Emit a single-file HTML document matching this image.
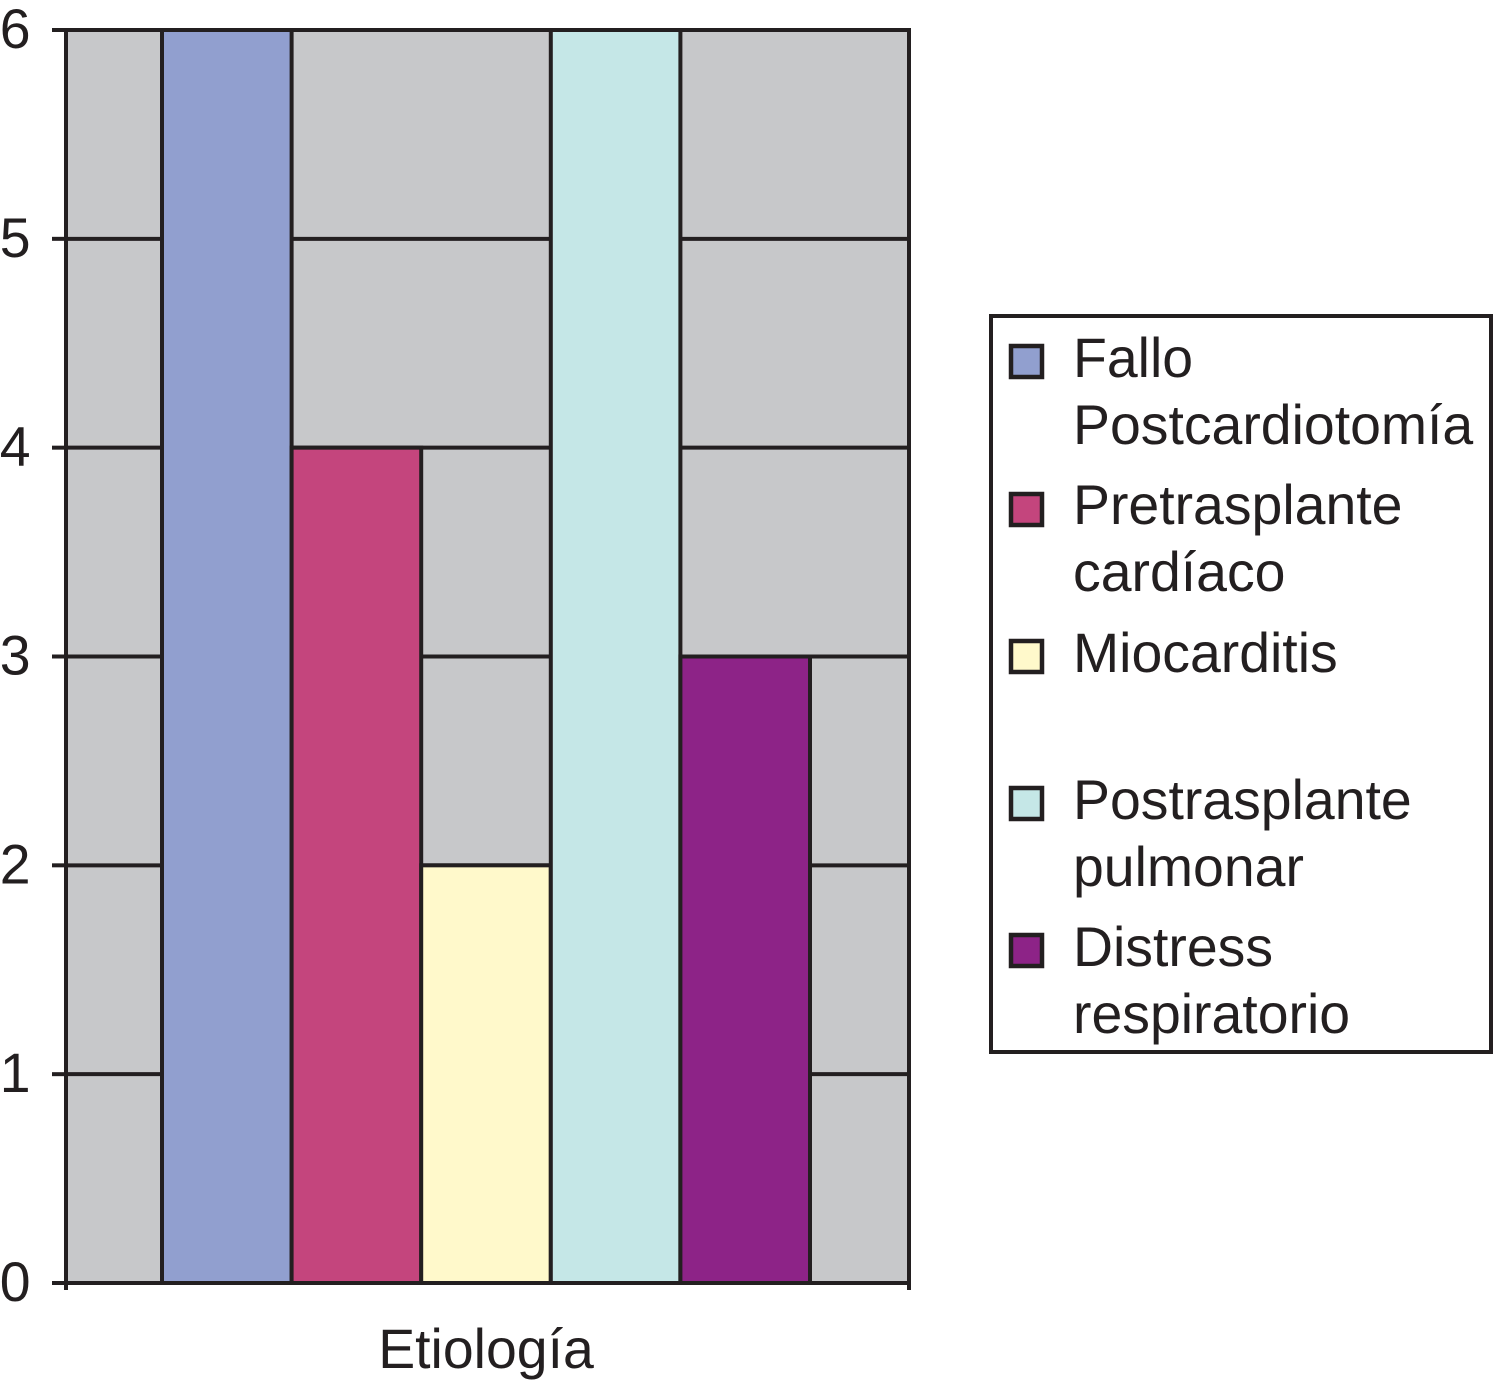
<!DOCTYPE html>
<html lang="es">
<head>
<meta charset="utf-8">
<title>Etiología</title>
<style>
html,body{margin:0;padding:0;background:#fff;}
svg{display:block;}
text{font-family:"Liberation Sans",Arial,sans-serif;fill:#231f20;font-size:55.4px;}
</style>
</head>
<body>
<svg id="chart" xmlns="http://www.w3.org/2000/svg" width="1493" height="1380" viewBox="0 0 1493 1380">
  <rect x="66" y="30" width="843" height="1253" fill="#c7c8ca"/>
  <g id="grid"></g>
  <g id="bars"></g>
  <g id="axes"></g>
  <text x="486" y="1368" text-anchor="middle">Etiología</text>
  <g>
    <rect x="991" y="316" width="500" height="736" fill="#fff" stroke="#231f20" stroke-width="4"/>
    <g>
      <rect x="1011" y="346" width="31" height="31" fill="#919fcf" stroke="#231f20" stroke-width="4.5"/>
      <text x="1073" y="377">Fallo</text>
      <text x="1073" y="444">Postcardiotomía</text>
    </g>
    <g>
      <rect x="1011" y="494" width="31" height="31" fill="#c4457d" stroke="#231f20" stroke-width="4.5"/>
      <text x="1073" y="524">Pretrasplante</text>
      <text x="1073" y="591">cardíaco</text>
    </g>
    <g>
      <rect x="1011" y="641" width="31" height="31" fill="#fff9cb" stroke="#231f20" stroke-width="4.5"/>
      <text x="1073" y="672">Miocarditis</text>
    </g>
    <g>
      <rect x="1011" y="788" width="31" height="31" fill="#c5e7e7" stroke="#231f20" stroke-width="4.5"/>
      <text x="1073" y="819">Postrasplante</text>
      <text x="1073" y="886">pulmonar</text>
    </g>
    <g>
      <rect x="1011" y="935" width="31" height="31" fill="#8d2387" stroke="#231f20" stroke-width="4.5"/>
      <text x="1073" y="966">Distress</text>
      <text x="1073" y="1033">respiratorio</text>
    </g>
  </g>
</svg>
<script>
const seriesNames = ["fallo-postcardiotomia", "pretrasplante-cardiaco", "miocarditis", "postrasplante-pulmonar", "distress-respiratorio"];
const seriesValues = [6, 4, 2, 6, 3];
const seriesColors = ["#919fcf", "#c4457d", "#fff9cb", "#c5e7e7", "#8d2387"];
const yTicks = [0, 1, 2, 3, 4, 5, 6];

const NS = "http://www.w3.org/2000/svg";
const plot = { left: 66, right: 909, top: 30, bottom: 1283, yMax: 6 };
const barStart = 162;
const barEnd = 810;
const ink = "#231f20";

function yScale(v) {
  return plot.bottom - (v / plot.yMax) * (plot.bottom - plot.top);
}
function xScale(i) {
  return barStart + i * (barEnd - barStart) / seriesValues.length;
}
function make(tag, attrs) {
  const el = document.createElementNS(NS, tag);
  Object.keys(attrs).forEach(function (k) { el.setAttribute(k, attrs[k]); });
  return el;
}

const gridGroup = document.getElementById("grid");
const barGroup = document.getElementById("bars");
const axisGroup = document.getElementById("axes");

yTicks.forEach(function (t) {
  const y = yScale(t);
  const grid = make("line", { x1: plot.left, x2: plot.right, y1: y, y2: y, stroke: ink, "stroke-width": 4 });
  
  
  gridGroup.appendChild(grid);
});

seriesValues.forEach(function (v, i) {
  const y = yScale(v);
  const bar = make("rect", {
    x: xScale(i), y: y, width: xScale(i + 1) - xScale(i), height: plot.bottom - y,
    fill: seriesColors[i], stroke: ink, "stroke-width": 4
  });
  
  
  barGroup.appendChild(bar);
});

const frame = make("rect", {
  x: plot.left, y: plot.top, width: plot.right - plot.left, height: plot.bottom - plot.top,
  fill: "none", stroke: ink, "stroke-width": 4
});


axisGroup.appendChild(frame);

yTicks.forEach(function (t) {
  const y = yScale(t);
  const tick = make("line", { x1: 52, x2: plot.left, y1: y, y2: y, stroke: ink, "stroke-width": 4 });
  
  
  axisGroup.appendChild(tick);
  const label = make("text", { x: 30.5, y: y + 18, "text-anchor": "end" });
  label.textContent = String(t);
  
  
  axisGroup.appendChild(label);
});

[plot.left, plot.right].forEach(function (x) {
  const tick = make("line", { x1: x, x2: x, y1: plot.bottom, y2: plot.bottom + 7, stroke: ink, "stroke-width": 4 });
  
  
  axisGroup.appendChild(tick);
});
</script>
</body>
</html>
